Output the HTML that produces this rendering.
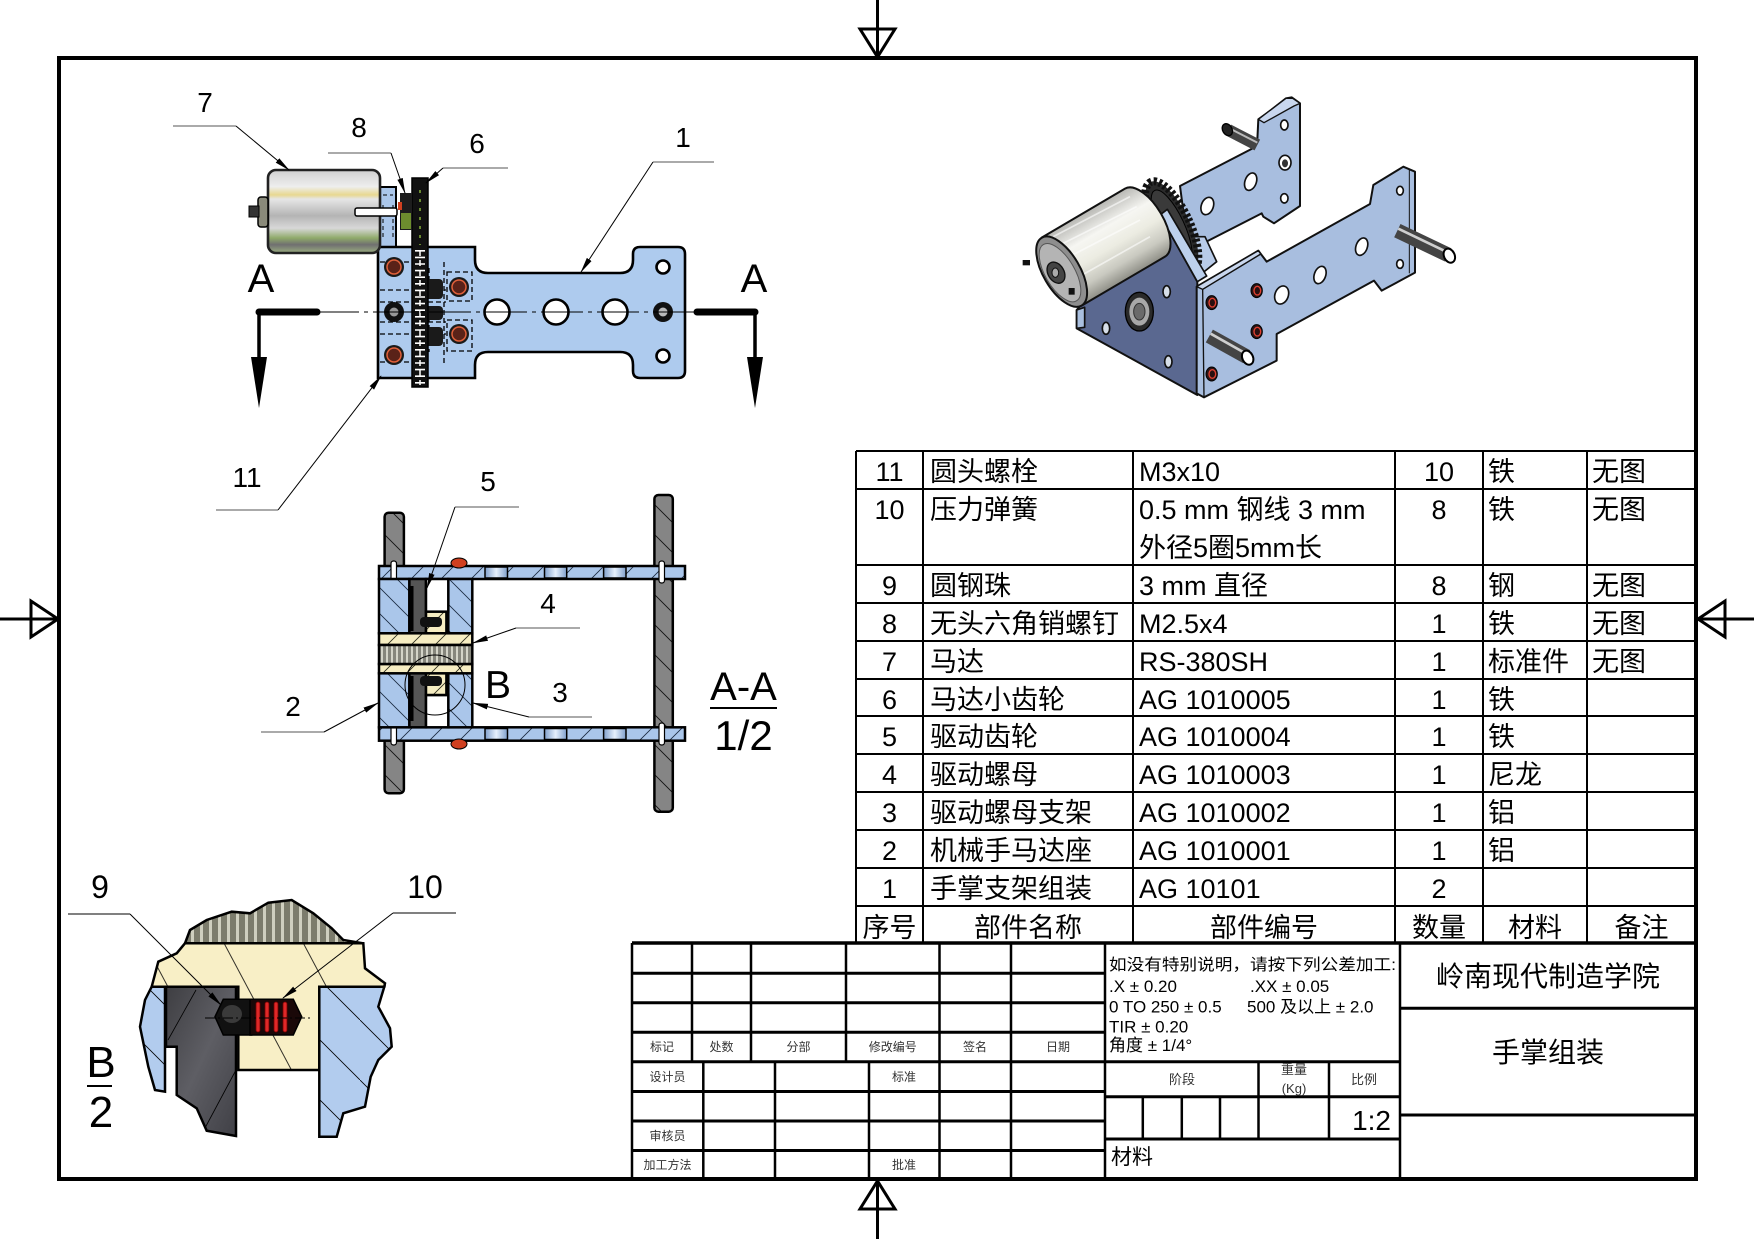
<!DOCTYPE html>
<html><head><meta charset="utf-8">
<style>
html,body{margin:0;padding:0;background:#fff;}
svg{display:block;}
text{font-family:"Liberation Sans","Noto Sans CJK SC",sans-serif;}
</style></head>
<body>
<svg width="1754" height="1239" viewBox="0 0 1754 1239" xmlns="http://www.w3.org/2000/svg">
<defs>
 <marker id="ah" markerWidth="16" markerHeight="8" refX="15" refY="4" orient="auto" markerUnits="userSpaceOnUse">
   <path d="M0,1.2 L16,4 L0,6.8 Z" fill="#000"/>
 </marker>
 <linearGradient id="motorG" x1="0" y1="0" x2="0" y2="1">
   <stop offset="0" stop-color="#d0d0d0"/>
   <stop offset="0.2" stop-color="#eeeeee"/>
   <stop offset="0.3" stop-color="#e8d890"/>
   <stop offset="0.35" stop-color="#e6e6e6"/>
   <stop offset="0.55" stop-color="#b4b4b4"/>
   <stop offset="0.7" stop-color="#d8d8d8"/>
   <stop offset="0.82" stop-color="#8faa6a"/>
   <stop offset="0.9" stop-color="#707070"/>
   <stop offset="1" stop-color="#9aae80"/>
 </linearGradient>
 <linearGradient id="holeG" x1="0" y1="0" x2="1" y2="0">
   <stop offset="0" stop-color="#7f9fcc"/>
   <stop offset="0.5" stop-color="#e6f0fc"/>
   <stop offset="1" stop-color="#7f9fcc"/>
 </linearGradient>
 <linearGradient id="motBody" gradientUnits="userSpaceOnUse" x1="125" y1="473" x2="245" y2="677">
   <stop offset="0" stop-color="#b8b8b4"/>
   <stop offset="0.3" stop-color="#f6f6f2"/>
   <stop offset="0.55" stop-color="#ececE2"/>
   <stop offset="0.8" stop-color="#c9c9c0"/>
   <stop offset="1" stop-color="#8e8e86"/>
 </linearGradient>
 <pattern id="hb" patternUnits="userSpaceOnUse" width="26" height="26">
   <rect width="26" height="26" fill="#aac6ea"/>
   <path d="M0,0 L26,26 M-4,22 L4,30 M22,-4 L30,4" stroke="#1a2a40" stroke-width="0.8"/>
 </pattern>
 <pattern id="hb2" patternUnits="userSpaceOnUse" width="30" height="30">
   <rect width="30" height="30" fill="#aac6ea"/>
   <path d="M0,30 L30,0 M-5,5 L5,-5 M25,35 L35,25" stroke="#1a2a40" stroke-width="0.8"/>
 </pattern>
 <pattern id="hc" patternUnits="userSpaceOnUse" width="24" height="24">
   <rect width="24" height="24" fill="#f6edc2"/>
   <path d="M0,24 L24,0 M-4,4 L4,-4 M20,28 L28,20" stroke="#2a2a1a" stroke-width="0.8"/>
 </pattern>
 <pattern id="hg" patternUnits="userSpaceOnUse" width="30" height="30">
   <rect width="30" height="30" fill="#858585"/>
   <path d="M0,0 L30,30 M-5,25 L5,35 M25,-5 L35,5" stroke="#111" stroke-width="0.9"/>
 </pattern>
 <pattern id="thr" patternUnits="userSpaceOnUse" width="5" height="10">
   <rect width="5" height="10" fill="#86867c"/>
   <rect x="1" width="2" height="10" fill="#d4d4c8"/>
 </pattern>
 <pattern id="thr2" patternUnits="userSpaceOnUse" width="9" height="10">
   <rect width="9" height="10" fill="#7c7c6c"/>
   <rect x="2" width="3" height="10" fill="#cfcfbf"/>
 </pattern>
 <pattern id="hcB" patternUnits="userSpaceOnUse" width="70" height="70" patternTransform="rotate(-28)">
   <rect width="70" height="70" fill="#f8efc6"/>
   <path d="M35,0 L35,70" stroke="#000" stroke-width="0.8"/>
 </pattern>
 <pattern id="hbB" patternUnits="userSpaceOnUse" width="60" height="60">
   <rect width="60" height="60" fill="#b2ccee"/>
   <path d="M0,0 L60,60" stroke="#000" stroke-width="0.8"/>
 </pattern>
 <linearGradient id="darkB" x1="0" y1="0" x2="1" y2="1">
   <stop offset="0" stop-color="#3e3e42"/>
   <stop offset="0.5" stop-color="#5e5e64"/>
   <stop offset="1" stop-color="#404046"/>
 </linearGradient>
</defs>
<rect width="1754" height="1239" fill="#fff"/>

<!-- FRAME & CENTER MARKERS -->
<rect x="59" y="58" width="1637" height="1121" fill="none" stroke="#000" stroke-width="4"/>
<g stroke="#000" stroke-width="3" fill="none">
 <line x1="877.5" y1="0" x2="877.5" y2="58"/>
 <polygon points="860,29 895,29 877.5,57"/>
 <line x1="877.5" y1="1179" x2="877.5" y2="1239"/>
 <polygon points="860,1209 895,1209 877.5,1181"/>
 <line x1="0" y1="619" x2="59" y2="619"/>
 <polygon points="31,601 31,637 58,619"/>
 <line x1="1696" y1="619" x2="1754" y2="619"/>
 <polygon points="1725,601 1725,637 1698,619"/>
</g>

<!-- ================= TOP VIEW ================= -->
<rect x="380" y="187" width="16" height="60" fill="#aac6ea" stroke="#000" stroke-width="2"/>
<path d="M383,195 H393 M383,205 V240 M393,205 V240" stroke="#000" stroke-width="1" stroke-dasharray="4 3" fill="none"/>
<path d="M378,247 H475 V260 Q475,273 488,273 H620 Q633,273 633,260 V254 Q633,247 640,247 H678 Q685,247 685,254 V371 Q685,378 678,378 H640 Q633,378 633,371 V365 Q633,352 620,352 H488 Q475,352 475,365 V378 H378 Z" fill="#aecbee" stroke="#000" stroke-width="2.6"/>
<g stroke="#000" stroke-width="1.3" fill="none" stroke-dasharray="5 3">
 <rect x="447" y="272" width="25" height="29"/>
 <rect x="447" y="320" width="25" height="31"/>
 <path d="M380,262 H411 M380,290 H446 M380,302 H446 M380,322 H446 M380,334 H446 M380,362 H411"/>
 <path d="M429,268 V300 M429,317 V352 M444,262 V365"/>
</g>
<g fill="#1a1a1a">
 <rect x="423" y="279" width="20" height="20" rx="4"/>
 <rect x="423" y="306" width="20" height="14" rx="4"/>
 <rect x="423" y="327" width="20" height="19" rx="4"/>
</g>
<rect x="412" y="178" width="16" height="209" fill="#111" stroke="#000" stroke-width="1.5"/>
<line x1="420" y1="250" x2="420" y2="385" stroke="#fff" stroke-width="10" stroke-dasharray="1.6 5"/>
<line x1="420" y1="250" x2="420" y2="385" stroke="#fff" stroke-width="1.5" stroke-dasharray="6 4"/>
<line x1="420" y1="190" x2="420" y2="245" stroke="#6a8a30" stroke-width="2" stroke-dasharray="3 6"/>
<rect x="400" y="193" width="12" height="37" fill="#1d1d1d"/>
<rect x="401" y="213" width="10" height="16" fill="#6d8d2e"/>
<rect x="398" y="202" width="4" height="8" fill="#d04020"/>
<rect x="268" y="170" width="112" height="83" rx="8" fill="url(#motorG)" stroke="#222" stroke-width="2.6"/>
<rect x="258" y="197" width="10" height="30" rx="3" fill="#8a8a7a" stroke="#000" stroke-width="1.5"/>
<rect x="249" y="206" width="10" height="11" fill="#333" stroke="#000" stroke-width="1"/>
<rect x="355" y="208" width="42" height="8" rx="2" fill="#fff" stroke="#000" stroke-width="1.5"/>
<g fill="#fff" stroke="#000" stroke-width="2.6">
 <circle cx="497" cy="312" r="12.5"/>
 <circle cx="556" cy="312" r="12.5"/>
 <circle cx="615" cy="312" r="12.5"/>
 <circle cx="663" cy="267" r="6.5"/>
 <circle cx="663" cy="356" r="6.5"/>
</g>
<circle cx="663" cy="312" r="10" fill="#111"/>
<circle cx="663" cy="312" r="4.5" fill="#bbb"/>
<circle cx="394" cy="312" r="10" fill="#111"/>
<circle cx="394" cy="312" r="4.5" fill="#999"/>
<g>
 <circle cx="394" cy="267" r="10" fill="#1a1a1a"/><circle cx="394" cy="267" r="7" fill="#5a2218" stroke="#e0603a" stroke-width="1.5"/>
 <circle cx="394" cy="355" r="10" fill="#1a1a1a"/><circle cx="394" cy="355" r="7" fill="#5a2218" stroke="#e0603a" stroke-width="1.5"/>
 <circle cx="459" cy="287" r="10" fill="#1a1a1a"/><circle cx="459" cy="287" r="7" fill="#5a2218" stroke="#e0603a" stroke-width="1.5"/>
 <circle cx="459" cy="334" r="10" fill="#1a1a1a"/><circle cx="459" cy="334" r="7" fill="#5a2218" stroke="#e0603a" stroke-width="1.5"/>
</g>
<line x1="317" y1="312" x2="700" y2="312" stroke="#000" stroke-width="1.1" stroke-dasharray="42 5 4 5"/>
<g stroke="#000" fill="none" stroke-linecap="round">
 <line x1="259" y1="312" x2="317" y2="312" stroke-width="7"/>
 <line x1="259" y1="312" x2="259" y2="360" stroke-width="3.5"/>
 <line x1="697" y1="312" x2="755" y2="312" stroke-width="7"/>
 <line x1="755" y1="312" x2="755" y2="360" stroke-width="3.5"/>
</g>
<polygon points="251,357 267,357 259,408" fill="#000"/>
<polygon points="747,357 763,357 755,408" fill="#000"/>
<text x="261" y="292" font-size="40" text-anchor="middle">A</text>
<text x="754" y="292" font-size="40" text-anchor="middle">A</text>
<g font-size="28" text-anchor="middle">
 <text x="205" y="112">7</text>
 <text x="359" y="137">8</text>
 <text x="477" y="153">6</text>
 <text x="683" y="147">1</text>
 <text x="247" y="487">11</text>
</g>
<g stroke="#777" stroke-width="1.3">
 <line x1="173" y1="126" x2="236" y2="126"/>
 <line x1="328" y1="153" x2="391" y2="153"/>
 <line x1="443" y1="168" x2="508" y2="168"/>
 <line x1="653" y1="162" x2="714" y2="162"/>
 <line x1="216" y1="510" x2="278" y2="510"/>
</g>
<g stroke="#000" stroke-width="1" fill="none">
 <line x1="236" y1="126" x2="289" y2="170" marker-end="url(#ah)"/>
 <line x1="391" y1="153" x2="405" y2="193" marker-end="url(#ah)"/>
 <line x1="443" y1="168" x2="426" y2="183" marker-end="url(#ah)"/>
 <line x1="653" y1="162" x2="581" y2="272" marker-end="url(#ah)"/>
 <line x1="278" y1="510" x2="381" y2="376" marker-end="url(#ah)"/>
</g>

<!-- ================= SECTION A-A ================= -->
<rect x="384.6" y="512.7" width="19.3" height="280.6" rx="4" fill="url(#hg)" stroke="#000" stroke-width="2.5"/>
<rect x="654.4" y="495" width="18.4" height="316.7" rx="4" fill="url(#hg)" stroke="#000" stroke-width="2.5"/>
<rect x="379" y="566" width="306" height="13" fill="url(#hb2)" stroke="#000" stroke-width="2.5"/>
<rect x="379" y="727.3" width="306" height="13.4" fill="url(#hb2)" stroke="#000" stroke-width="2.5"/>
<g fill="url(#holeG)" stroke="#000" stroke-width="1.5">
 <rect x="485" y="567" width="22.5" height="11"/><rect x="544.5" y="567" width="22.2" height="11"/><rect x="603.6" y="567" width="22.4" height="11"/>
 <rect x="485" y="728.5" width="22.5" height="11"/><rect x="544.5" y="728.5" width="22.2" height="11"/><rect x="603.6" y="728.5" width="22.4" height="11"/>
</g>
<g fill="#fff" stroke="#000" stroke-width="1.2">
 <rect x="391" y="561" width="5.5" height="22" rx="2.5"/>
 <rect x="659" y="561" width="5.5" height="22" rx="2.5"/>
 <rect x="391" y="723" width="5.5" height="22" rx="2.5"/>
 <rect x="659" y="723" width="5.5" height="22" rx="2.5"/>
</g>
<g stroke="#000" stroke-width="2.5">
 <rect x="379" y="579" width="30.4" height="54.3" fill="url(#hb)"/>
 <rect x="379" y="673.3" width="30.4" height="54" fill="url(#hb)"/>
 <rect x="448.3" y="579" width="24" height="54.3" fill="url(#hb)"/>
 <rect x="448.3" y="673.3" width="24" height="54" fill="url(#hb)"/>
 <rect x="409.4" y="579" width="16.6" height="54.3" fill="#555"/>
 <rect x="409.4" y="673.3" width="16.6" height="54" fill="#555"/>
 <rect x="426" y="579" width="22.3" height="32.7" fill="#fff"/>
 <rect x="426" y="695" width="22.3" height="32.3" fill="#fff"/>
 <rect x="426" y="611.7" width="20.4" height="21.6" fill="url(#hc)"/>
 <rect x="426" y="673.3" width="20.4" height="21.7" fill="url(#hc)"/>
 <rect x="379" y="633.3" width="93.3" height="11.7" fill="url(#hc)"/>
 <rect x="379" y="664" width="93.3" height="9.3" fill="url(#hc)"/>
 <rect x="379" y="645" width="93.3" height="19" fill="url(#thr)"/>
</g>
<rect x="410.5" y="586" width="3" height="45" fill="#000"/>
<rect x="410.5" y="676" width="3" height="45" fill="#000"/>
<rect x="420" y="617" width="22" height="10" rx="4" fill="#111"/>
<rect x="420" y="676" width="22" height="10" rx="4" fill="#111"/>
<ellipse cx="459" cy="563" rx="8" ry="5" fill="#d04020" stroke="#000" stroke-width="1"/>
<ellipse cx="459" cy="744" rx="8" ry="5" fill="#d04020" stroke="#000" stroke-width="1"/>
<circle cx="435" cy="685" r="30" fill="none" stroke="#000" stroke-width="1"/>
<text x="485" y="698" font-size="39">B</text>
<g font-size="28" text-anchor="middle">
 <text x="488" y="491">5</text>
 <text x="548" y="613">4</text>
 <text x="293" y="716">2</text>
 <text x="560" y="702">3</text>
</g>
<g stroke="#777" stroke-width="1.3">
 <line x1="455" y1="507" x2="519" y2="507"/>
 <line x1="516" y1="628" x2="580" y2="628"/>
 <line x1="261" y1="732" x2="324" y2="732"/>
 <line x1="529" y1="717" x2="592" y2="717"/>
</g>
<g stroke="#000" stroke-width="1" fill="none">
 <line x1="455" y1="507" x2="427" y2="588" marker-end="url(#ah)"/>
 <line x1="516" y1="628" x2="473" y2="643" marker-end="url(#ah)"/>
 <line x1="324" y1="732" x2="378" y2="703" marker-end="url(#ah)"/>
 <line x1="529" y1="717" x2="473" y2="703" marker-end="url(#ah)"/>
</g>
<text x="743.5" y="700" font-size="40" text-anchor="middle">A-A</text>
<line x1="710" y1="708" x2="777" y2="708" stroke="#000" stroke-width="2"/>
<text x="743.5" y="750" font-size="42" text-anchor="middle">1/2</text>

<!-- ================= DETAIL B ================= -->
<polygon points="185,943.3 190,930 206.7,920 231.7,911.7 250,913.3 268.3,902.7 291.7,900 313.3,913.3 331.7,928.3 343.3,940 363.3,943.3" fill="url(#thr2)" stroke="#000" stroke-width="2.5"/>
<polygon points="185,943.3 363.3,943.3 365,968.3 385,983.3 384.3,986.7 319.3,986.7 319.3,1070 238.3,1070 238.3,986.7 151.7,986.7 158.3,961.7 176.7,953.3" fill="url(#hcB)" stroke="#000" stroke-width="2.5"/>
<polygon points="165,986.7 151.7,986.7 145,1000 140,1026.7 148.3,1066.7 155,1090 165,1091.7" fill="url(#hbB)" stroke="#000" stroke-width="2.5"/>
<polygon points="166,986.7 236,986.7 236,1136 206.7,1130.7 196.7,1108.3 176.7,1095 176.7,1046.7 166,1046.7" fill="url(#darkB)" stroke="#000" stroke-width="2.5"/>
<line x1="168" y1="1040" x2="196" y2="990" stroke="#000" stroke-width="0.8"/>
<line x1="205" y1="1128" x2="236" y2="1070" stroke="#000" stroke-width="0.8"/>
<polygon points="319.3,986.7 384.3,986.7 378.3,1006.7 390,1028.3 391.7,1046.7 378.3,1060 370.7,1076.7 365,1106.7 343.3,1113.3 336.7,1136.7 319.3,1136.7" fill="url(#hbB)" stroke="#000" stroke-width="2.5"/>
<polygon points="215,1016.7 223.3,999.3 251.7,999.3 251.7,1035 223.3,1035" fill="#111" stroke="#000" stroke-width="1.5"/>
<ellipse cx="232" cy="1014" rx="10" ry="9" fill="#3a3a3a"/>
<polygon points="250,999.3 293.3,999.3 301.7,1016.7 293.3,1035 250,1035" fill="#1a0808" stroke="#000" stroke-width="1.5"/>
<g fill="#e02828" stroke="#700" stroke-width="0.8">
 <rect x="256" y="1002" width="4" height="30" rx="2"/>
 <rect x="265" y="1002" width="4" height="30" rx="2"/>
 <rect x="274" y="1002" width="4" height="30" rx="2"/>
 <rect x="283" y="1002" width="4" height="30" rx="2"/>
</g>
<line x1="205" y1="1018" x2="310" y2="1018" stroke="#000" stroke-width="1" stroke-dasharray="10 3 2 3"/>
<text x="100" y="898" font-size="32" text-anchor="middle">9</text>
<text x="425" y="898" font-size="32" text-anchor="middle">10</text>
<g stroke="#000" stroke-width="1" fill="none">
 <line x1="68" y1="914" x2="130" y2="914"/>
 <line x1="393" y1="913" x2="456" y2="913"/>
 <line x1="130" y1="914" x2="221" y2="1005" marker-end="url(#ah)"/>
 <line x1="393" y1="913" x2="283" y2="998" marker-end="url(#ah)"/>
</g>
<text x="101" y="1077" font-size="44" text-anchor="middle">B</text>
<line x1="87" y1="1086" x2="112" y2="1086" stroke="#000" stroke-width="2"/>
<text x="101" y="1127" font-size="44" text-anchor="middle">2</text>

<!-- ================= ISOMETRIC VIEW ================= -->
<g transform="translate(1000 80) scale(0.33333)" stroke-linejoin="round">
 <polygon points="540,318 758,205 772,180 775,118 800,100 858,55 875,52 900,70 900,378 822,430 790,410 785,400 590,500 560,470" fill="#a8bedf" stroke="#111" stroke-width="6"/>
 <polygon points="775,118 858,55 878,55 900,70 882,78 792,128" fill="#c9d7ee" stroke="#111" stroke-width="4"/>
 <g fill="#fff" stroke="#111" stroke-width="5">
  <ellipse cx="853" cy="135" rx="11" ry="15"/>
  <ellipse cx="855" cy="248" rx="18" ry="22"/>
  <ellipse cx="752" cy="305" rx="17" ry="27" transform="rotate(20 752 305)"/>
  <ellipse cx="853" cy="355" rx="11" ry="14"/>
  <ellipse cx="622" cy="378" rx="18" ry="27" transform="rotate(20 622 378)"/>
 </g>
 <ellipse cx="855" cy="250" rx="9" ry="12" fill="#333"/>
 <line x1="685" y1="150" x2="772" y2="195" stroke="#444" stroke-width="36"/>
 <line x1="690" y1="146" x2="772" y2="188" stroke="#bbb" stroke-width="6"/>
 <ellipse cx="682" cy="149" rx="14" ry="19" transform="rotate(-30 682 149)" fill="#222" stroke="#000" stroke-width="4"/>
 <polygon points="545,470 615,470 650,545 600,585 560,565 540,500" fill="#b8cbe8" stroke="#111" stroke-width="5"/>
 <ellipse cx="515" cy="440" rx="55" ry="148" transform="rotate(-25 515 440)" fill="#2a2a2a" stroke="#111" stroke-width="24" stroke-dasharray="9 7"/>
 <ellipse cx="515" cy="440" rx="38" ry="120" transform="rotate(-25 515 440)" fill="#3a3a3a" stroke="#000" stroke-width="3"/>
 <polygon points="230,690 480,405 592,605 592,945 230,745" fill="#5a6890" stroke="#111" stroke-width="6"/>
 <polygon points="480,405 502,388 620,588 592,605" fill="#bcd0ec" stroke="#111" stroke-width="5"/>
 <polygon points="230,690 254,682 254,742 230,745" fill="#a9bfdf" stroke="#111" stroke-width="5"/>
 <ellipse cx="418" cy="695" rx="42" ry="58" fill="#2a2a2a" stroke="#000" stroke-width="4"/>
 <ellipse cx="418" cy="695" rx="30" ry="42" fill="#a8a8a8"/>
 <ellipse cx="418" cy="695" rx="17" ry="25" fill="#6a6a6a" stroke="#333" stroke-width="3"/>
 <g fill="#d6dee8" stroke="#111" stroke-width="5">
  <ellipse cx="318" cy="745" rx="11" ry="18"/>
  <ellipse cx="500" cy="635" rx="11" ry="18"/>
  <ellipse cx="505" cy="845" rx="11" ry="18"/>
 </g>
 <path d="M125,473 L375,326 A55,118 -30.4 0 1 495,530 L245,677 Z" fill="url(#motBody)" stroke="#111" stroke-width="6"/>
 <path d="M160,470 L390,350 M170,500 L410,380 M150,560 L420,420 M220,600 L450,470" stroke="#fff" stroke-width="5" opacity="0.6"/>
 <ellipse cx="185" cy="575" rx="55" ry="118" transform="rotate(-30.4 185 575)" fill="#8e8e8e" stroke="#111" stroke-width="6"/>
 <ellipse cx="180" cy="578" rx="44" ry="98" transform="rotate(-30.4 180 578)" fill="#b4b4b4" stroke="#555" stroke-width="3"/>
 <ellipse cx="168" cy="578" rx="24" ry="34" transform="rotate(-30.4 168 578)" fill="#444" stroke="#111" stroke-width="4"/>
 <ellipse cx="166" cy="578" rx="10" ry="14" fill="#aaa" stroke="#111" stroke-width="3"/>
 <rect x="68" y="540" width="22" height="16" fill="#111"/>
 <rect x="206" y="624" width="18" height="20" fill="#111"/>
 <polygon points="590,620 775,512 800,545 1110,372 1120,315 1210,260 1245,275 1245,578 1145,632 1122,602 830,762 830,842 612,952 590,940" fill="#a8bedf" stroke="#111" stroke-width="6"/>
 <polyline points="782,522 608,628 612,952" fill="none" stroke="#111" stroke-width="4"/>
 <polyline points="1228,268 1228,580" fill="none" stroke="#111" stroke-width="3"/>
 <polygon points="590,620 775,512 782,522 608,628" fill="#c9d7ee" stroke="#111" stroke-width="4"/>
 <g fill="#fff" stroke="#111" stroke-width="5">
  <ellipse cx="1085" cy="500" rx="17" ry="27" transform="rotate(20 1085 500)"/>
  <ellipse cx="960" cy="585" rx="17" ry="27" transform="rotate(20 960 585)"/>
  <ellipse cx="845" cy="645" rx="20" ry="28" transform="rotate(20 845 645)"/>
  <ellipse cx="1200" cy="332" rx="10" ry="13"/>
  <ellipse cx="1200" cy="552" rx="10" ry="13"/>
 </g>
 <g>
  <ellipse cx="635" cy="668" rx="17" ry="21" fill="#2a1515" stroke="#000" stroke-width="3"/>
  <ellipse cx="637" cy="668" rx="10" ry="13" fill="#2a1010" stroke="#e04030" stroke-width="4"/>
  <ellipse cx="770" cy="632" rx="17" ry="21" fill="#2a1515" stroke="#000" stroke-width="3"/>
  <ellipse cx="772" cy="632" rx="10" ry="13" fill="#2a1010" stroke="#e04030" stroke-width="4"/>
  <ellipse cx="770" cy="755" rx="17" ry="21" fill="#2a1515" stroke="#000" stroke-width="3"/>
  <ellipse cx="772" cy="755" rx="10" ry="13" fill="#2a1010" stroke="#e04030" stroke-width="4"/>
  <ellipse cx="635" cy="882" rx="17" ry="21" fill="#2a1515" stroke="#000" stroke-width="3"/>
  <ellipse cx="637" cy="882" rx="10" ry="13" fill="#2a1010" stroke="#e04030" stroke-width="4"/>
 </g>
 <line x1="1192" y1="452" x2="1345" y2="525" stroke="#444" stroke-width="44"/>
 <line x1="1195" y1="446" x2="1345" y2="518" stroke="#cfcfcf" stroke-width="8"/>
 <ellipse cx="1348" cy="527" rx="16" ry="22" transform="rotate(-25 1348 527)" fill="#fff" stroke="#000" stroke-width="6"/>
 <line x1="628" y1="768" x2="740" y2="830" stroke="#444" stroke-width="44"/>
 <line x1="632" y1="761" x2="740" y2="822" stroke="#cfcfcf" stroke-width="8"/>
 <ellipse cx="743" cy="833" rx="16" ry="22" transform="rotate(-25 743 833)" fill="#fff" stroke="#000" stroke-width="6"/>
</g>

<!-- ================= BOM TABLE ================= -->
<g stroke="#000" stroke-width="2" fill="none">
 <line x1="856" y1="451" x2="1696" y2="451"/>
 <line x1="856" y1="489" x2="1696" y2="489"/>
 <line x1="856" y1="565" x2="1696" y2="565"/>
 <line x1="856" y1="603" x2="1696" y2="603"/>
 <line x1="856" y1="641" x2="1696" y2="641"/>
 <line x1="856" y1="679" x2="1696" y2="679"/>
 <line x1="856" y1="716" x2="1696" y2="716"/>
 <line x1="856" y1="754" x2="1696" y2="754"/>
 <line x1="856" y1="792" x2="1696" y2="792"/>
 <line x1="856" y1="830" x2="1696" y2="830"/>
 <line x1="856" y1="868" x2="1696" y2="868"/>
 <line x1="856" y1="906" x2="1696" y2="906"/>
 <line x1="856" y1="451" x2="856" y2="943"/>
 <line x1="923" y1="451" x2="923" y2="943"/>
 <line x1="1133" y1="451" x2="1133" y2="943"/>
 <line x1="1395" y1="451" x2="1395" y2="943"/>
 <line x1="1483" y1="451" x2="1483" y2="943"/>
 <line x1="1587" y1="451" x2="1587" y2="943"/>
</g>
<g font-size="27" fill="#000">
 <g text-anchor="middle">
  <text x="889.5" y="481">11</text><text x="889.5" y="519">10</text><text x="889.5" y="595">9</text>
  <text x="889.5" y="633">8</text><text x="889.5" y="671">7</text><text x="889.5" y="709">6</text>
  <text x="889.5" y="746">5</text><text x="889.5" y="784">4</text><text x="889.5" y="822">3</text>
  <text x="889.5" y="860">2</text><text x="889.5" y="898">1</text>
  <text x="1439" y="481">10</text><text x="1439" y="519">8</text><text x="1439" y="595">8</text>
  <text x="1439" y="633">1</text><text x="1439" y="671">1</text><text x="1439" y="709">1</text>
  <text x="1439" y="746">1</text><text x="1439" y="784">1</text><text x="1439" y="822">1</text>
  <text x="1439" y="860">1</text><text x="1439" y="898">2</text>
  <text x="889.5" y="937">序号</text>
  <text x="1028" y="937">部件名称</text>
  <text x="1264" y="937">部件编号</text>
  <text x="1439" y="937">数量</text>
  <text x="1535" y="937">材料</text>
  <text x="1641.5" y="937">备注</text>
 </g>
 <text x="930" y="481">圆头螺栓</text>
 <text x="930" y="519">压力弹簧</text>
 <text x="930" y="595">圆钢珠</text>
 <text x="930" y="633">无头六角销螺钉</text>
 <text x="930" y="671">马达</text>
 <text x="930" y="709">马达小齿轮</text>
 <text x="930" y="746">驱动齿轮</text>
 <text x="930" y="784">驱动螺母</text>
 <text x="930" y="822">驱动螺母支架</text>
 <text x="930" y="860">机械手马达座</text>
 <text x="930" y="898">手掌支架组装</text>
 <text x="1139" y="481">M3x10</text>
 <text x="1139" y="519">0.5 mm 钢线 3 mm</text>
 <text x="1139" y="557">外径5圈5mm长</text>
 <text x="1139" y="595">3 mm 直径</text>
 <text x="1139" y="633">M2.5x4</text>
 <text x="1139" y="671">RS-380SH</text>
 <text x="1139" y="709">AG 1010005</text>
 <text x="1139" y="746">AG 1010004</text>
 <text x="1139" y="784">AG 1010003</text>
 <text x="1139" y="822">AG 1010002</text>
 <text x="1139" y="860">AG 1010001</text>
 <text x="1139" y="898">AG 10101</text>
 <text x="1488" y="481">铁</text><text x="1488" y="519">铁</text><text x="1488" y="595">钢</text>
 <text x="1488" y="633">铁</text><text x="1488" y="671">标准件</text><text x="1488" y="709">铁</text>
 <text x="1488" y="746">铁</text><text x="1488" y="784">尼龙</text><text x="1488" y="822">铝</text>
 <text x="1488" y="860">铝</text>
 <text x="1592" y="481">无图</text><text x="1592" y="519">无图</text><text x="1592" y="595">无图</text>
 <text x="1592" y="633">无图</text><text x="1592" y="671">无图</text>
</g>

<!-- ================= TITLE BLOCK ================= -->
<g stroke="#000" stroke-width="2.5" fill="none">
 <line x1="632" y1="943" x2="1696" y2="943" stroke-width="3.5"/>
 <line x1="632" y1="943" x2="632" y2="1179"/>
 <line x1="692" y1="943" x2="692" y2="1062"/>
 <line x1="751" y1="943" x2="751" y2="1062"/>
 <line x1="846" y1="943" x2="846" y2="1062"/>
 <line x1="939.5" y1="943" x2="939.5" y2="1179"/>
 <line x1="1011" y1="943" x2="1011" y2="1179"/>
 <line x1="632" y1="973.3" x2="1105" y2="973.3" stroke-width="3"/>
 <line x1="632" y1="1002.7" x2="1105" y2="1002.7" stroke-width="3"/>
 <line x1="632" y1="1032.3" x2="1105" y2="1032.3" stroke-width="3"/>
 <line x1="632" y1="1061.7" x2="1400" y2="1061.7" stroke-width="3"/>
 <line x1="703.3" y1="1062" x2="703.3" y2="1179"/>
 <line x1="775" y1="1062" x2="775" y2="1179"/>
 <line x1="869" y1="1062" x2="869" y2="1179"/>
 <line x1="632" y1="1091.5" x2="1105" y2="1091.5" stroke-width="3"/>
 <line x1="632" y1="1121" x2="1105" y2="1121" stroke-width="3"/>
 <line x1="632" y1="1150.5" x2="1105" y2="1150.5" stroke-width="3"/>
 <line x1="1105" y1="943" x2="1105" y2="1179"/>
 <line x1="1105" y1="1096.7" x2="1400" y2="1096.7" stroke-width="3"/>
 <line x1="1105" y1="1139" x2="1400" y2="1139" stroke-width="3"/>
 <line x1="1258.5" y1="1061.7" x2="1258.5" y2="1139"/>
 <line x1="1329" y1="1061.7" x2="1329" y2="1139"/>
 <line x1="1142.8" y1="1096.7" x2="1142.8" y2="1139"/>
 <line x1="1181.8" y1="1096.7" x2="1181.8" y2="1139"/>
 <line x1="1220" y1="1096.7" x2="1220" y2="1139"/>
 <line x1="1400" y1="943" x2="1400" y2="1179"/>
 <line x1="1400" y1="1008.3" x2="1696" y2="1008.3" stroke-width="3"/>
 <line x1="1400" y1="1115" x2="1696" y2="1115" stroke-width="3"/>
</g>
<g font-size="12" fill="#333" text-anchor="middle">
 <text x="662" y="1051">标记</text>
 <text x="721.5" y="1051">处数</text>
 <text x="798.5" y="1051">分部</text>
 <text x="892.7" y="1051">修改编号</text>
 <text x="975" y="1051">签名</text>
 <text x="1058" y="1051">日期</text>
 <text x="667.5" y="1081">设计员</text>
 <text x="904" y="1081">标准</text>
 <text x="667.5" y="1140">审核员</text>
 <text x="667.5" y="1169">加工方法</text>
 <text x="904" y="1169">批准</text>
 <text x="1182" y="1084" font-size="13">阶段</text>
 <text x="1294" y="1074" font-size="13">重量</text>
 <text x="1294" y="1093" font-size="13">(Kg)</text>
 <text x="1364" y="1084" font-size="13">比例</text>
</g>
<g font-size="17" fill="#000">
 <text x="1109" y="970" font-size="16" textLength="287" lengthAdjust="spacingAndGlyphs">如没有特别说明，请按下列公差加工:</text>
 <text x="1109" y="992">.X ± 0.20</text>
 <text x="1250" y="992">.XX ± 0.05</text>
 <text x="1109" y="1012.5">0 TO 250 ± 0.5</text>
 <text x="1247" y="1012.5">500 及以上 ± 2.0</text>
 <text x="1109" y="1032.5">TIR ± 0.20</text>
 <text x="1109" y="1051">角度 ± 1/4°</text>
</g>
<text x="1391" y="1130" font-size="28" text-anchor="end">1:2</text>
<text x="1111" y="1164" font-size="21">材料</text>
<text x="1548" y="986" font-size="28" text-anchor="middle">岭南现代制造学院</text>
<text x="1548" y="1062" font-size="28" text-anchor="middle">手掌组装</text>
</svg>
</body></html>
